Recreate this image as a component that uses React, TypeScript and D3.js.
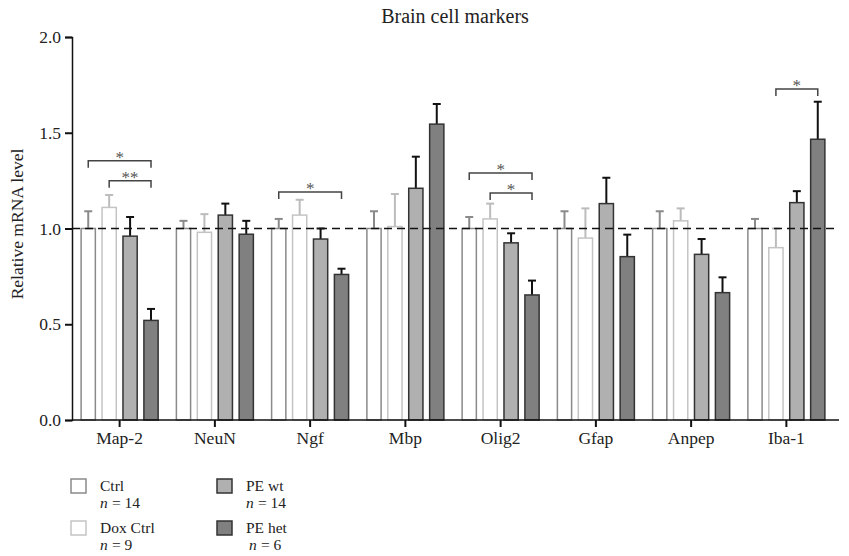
import React, { useEffect, useRef } from 'react';
import * as d3 from 'd3';

// Werte
const markers = ['Map-2', 'NeuN', 'Ngf', 'Mbp', 'Olig2', 'Gfap', 'Anpep', 'Iba-1'];
const groups = ['Ctrl', 'Dox Ctrl', 'PE wt', 'PE het'];
const groupN = ['14', '9', '14', '6'];

const ctrlMean = [1.0, 1.0, 1.0, 1.0, 1.0, 1.0, 1.0, 1.0];
const ctrlErr = [0.09, 0.04, 0.05, 0.09, 0.06, 0.09, 0.09, 0.05];
const doxMean = [1.11, 0.98, 1.07, 1.01, 1.05, 0.95, 1.04, 0.9];
const doxErr = [0.065, 0.095, 0.08, 0.17, 0.08, 0.155, 0.065, 0.1];
const wtMean = [0.96, 1.07, 0.945, 1.21, 0.925, 1.13, 0.865, 1.135];
const wtErr = [0.1, 0.06, 0.055, 0.165, 0.05, 0.135, 0.08, 0.06];
const hetMean = [0.52, 0.97, 0.76, 1.545, 0.653, 0.853, 0.665, 1.466];
const hetErr = [0.06, 0.07, 0.03, 0.105, 0.075, 0.115, 0.08, 0.196];

const yTicks = [0, 0.5, 1.0, 1.5, 2.0];

// Signifikanz: Marker, von Gruppe, bis Gruppe, Hoehe, Text
const sigMarker = ['Map-2', 'Map-2', 'Ngf', 'Olig2', 'Olig2', 'Iba-1'];
const sigFrom = [0, 1, 0, 0, 1, 1];
const sigTo = [3, 3, 3, 3, 3, 3];
const sigLevel = [1.354, 1.25, 1.19, 1.29, 1.185, 1.728];
const sigLabel = ['*', '**', '*', '*', '*', '*'];

const fills = ['#ffffff', '#ffffff', '#b0b0b0', '#808080'];
const strokes = ['#8a8a8a', '#c4c4c4', '#333333', '#333333'];
const errColors = ['#8a8a8a', '#bcbcbc', '#111111', '#111111'];

const W = 849;
const H = 556;
const FONT = '"Liberation Serif", "DejaVu Serif", serif';

function App() {
  const ref = useRef<SVGSVGElement>(null);

  useEffect(() => {
    const svg = d3.select(ref.current);
    svg.selectAll('*').remove();

    const means = [ctrlMean, doxMean, wtMean, hetMean];
    const errs = [ctrlErr, doxErr, wtErr, hetErr];

    const x = d3.scaleBand().domain(markers).range([72, 834]);
    const y = d3.scaleLinear().domain([0, 2]).range([420, 37]);
    const inner = d3.scaleBand().domain(groups).range([-38.5, 38.5]).paddingInner(0.32);
    const cx = (m: string, grp: string) => x(m)! + x.bandwidth() / 2 + inner(grp)! + inner.bandwidth() / 2;

    const g = svg.append('g');

    // Balken
    groups.forEach((grp, gi) => {
      const data = markers.map((m, i) => ({ m, v: means[gi][i], e: errs[gi][i] }));
      const col = g.append('g');
      col.selectAll('line.err')
        .data(data)
        .enter()
        .append('line')
        .attr('x1', d => cx(d.m, grp))
        .attr('x2', d => cx(d.m, grp))
        .attr('y1', d => y(d.v))
        .attr('y2', d => y(d.v + d.e))
        .attr('stroke', errColors[gi])
        .attr('stroke-width', 2);
      col.selectAll('line.cap')
        .data(data)
        .enter()
        .append('line')
        .attr('x1', d => cx(d.m, grp) - 4)
        .attr('x2', d => cx(d.m, grp) + 4)
        .attr('y1', d => y(d.v + d.e))
        .attr('y2', d => y(d.v + d.e))
        .attr('stroke', errColors[gi])
        .attr('stroke-width', 2);
      col.selectAll('rect')
        .data(data)
        .enter()
        .append('rect')
        .attr('x', d => x(d.m)! + x.bandwidth() / 2 + inner(grp)!)
        .attr('y', d => y(d.v))
        .attr('width', inner.bandwidth())
        .attr('height', d => y(0) - y(d.v))
        .attr('fill', fills[gi])
        .attr('stroke', strokes[gi])
        .attr('stroke-width', 1.5);
    });

    // gestrichelte Linie bei 1.0
    g.append('line')
      .attr('x1', 72)
      .attr('x2', 834)
      .attr('y1', y(1))
      .attr('y2', y(1))
      .attr('stroke', '#111')
      .attr('stroke-width', 1.5)
      .attr('stroke-dasharray', '8,5');

    // Achsen
    const yAxis = g.append('g')
      .attr('transform', 'translate(72,0)')
      .call(d3.axisLeft(y).tickValues(yTicks).tickFormat(d3.format('.1f')).tickSizeOuter(0).tickSize(7));
    const xAxis = g.append('g')
      .attr('transform', 'translate(0,420)')
      .call(d3.axisBottom(x).tickSizeOuter(0).tickSize(7));
    xAxis.select('.domain').attr('d', 'M72,0H839');
    [yAxis, xAxis].forEach(a => {
      a.select('.domain').attr('stroke', '#111').attr('stroke-width', 1.5);
      a.selectAll('.tick line').attr('stroke', '#111').attr('stroke-width', 2);
      a.selectAll('text').attr('font-family', FONT).attr('font-size', 17.5).attr('fill', '#222');
    });
    yAxis.selectAll('text').attr('x', -11);
    xAxis.selectAll('text').attr('y', 12);

    // Signifikanz-Klammern
    sigMarker.forEach((m, i) => {
      const x1 = cx(m, groups[sigFrom[i]]);
      const x2 = cx(m, groups[sigTo[i]]);
      const yy = y(sigLevel[i]);
      g.append('path')
        .attr('d', `M${x1},${yy + 7}V${yy}H${x2}V${yy + 7}`)
        .attr('fill', 'none')
        .attr('stroke', '#444')
        .attr('stroke-width', 1.5);
      g.append('text')
        .attr('x', (x1 + x2) / 2)
        .attr('y', yy + 2)
        .attr('text-anchor', 'middle')
        .attr('font-family', FONT)
        .attr('font-size', 17)
        .attr('fill', '#555')
        .text(sigLabel[i]);
    });

    // Titel
    svg.append('text')
      .attr('x', 455)
      .attr('y', 23)
      .attr('text-anchor', 'middle')
      .attr('font-family', FONT)
      .attr('font-size', 20)
      .attr('fill', '#222')
      .text('Brain cell markers');

    svg.append('text')
      .attr('transform', `translate(23,224) rotate(-90)`)
      .attr('text-anchor', 'middle')
      .attr('font-family', FONT)
      .attr('font-size', 17.5)
      .attr('fill', '#222')
      .text('Relative mRNA level');

    // Legende
    const legX = [71, 217];
    const legY = [479, 521];
    groups.forEach((grp, gi) => {
      const lx = legX[Math.floor(gi / 2)];
      const ly = legY[gi % 2];
      const nx = gi === 3 ? 32 : 29;
      const item = svg.append('g').attr('transform', `translate(${lx},${ly})`);
      item.append('rect')
        .attr('x', 0).attr('y', 0).attr('width', 15).attr('height', 14)
        .attr('fill', fills[gi]).attr('stroke', strokes[gi]).attr('stroke-width', 1.5);
      item.append('text')
        .attr('x', 29).attr('y', 12)
        .attr('font-family', FONT).attr('font-size', 15.5).attr('fill', '#222')
        .text(grp);
      item.append('text')
        .attr('x', nx).attr('y', 29)
        .attr('font-family', FONT).attr('font-size', 15.5).attr('font-style', 'italic').attr('fill', '#222')
        .text('n');
      item.append('text')
        .attr('x', nx + 12).attr('y', 29)
        .attr('font-family', FONT).attr('font-size', 15.5).attr('fill', '#222')
        .text('= ' + groupN[gi]);
    });
  }, []);

  return <svg ref={ref} width={W} height={H} style={{ position: 'absolute', left: 0, top: 0 }} />;
}

export default App;
